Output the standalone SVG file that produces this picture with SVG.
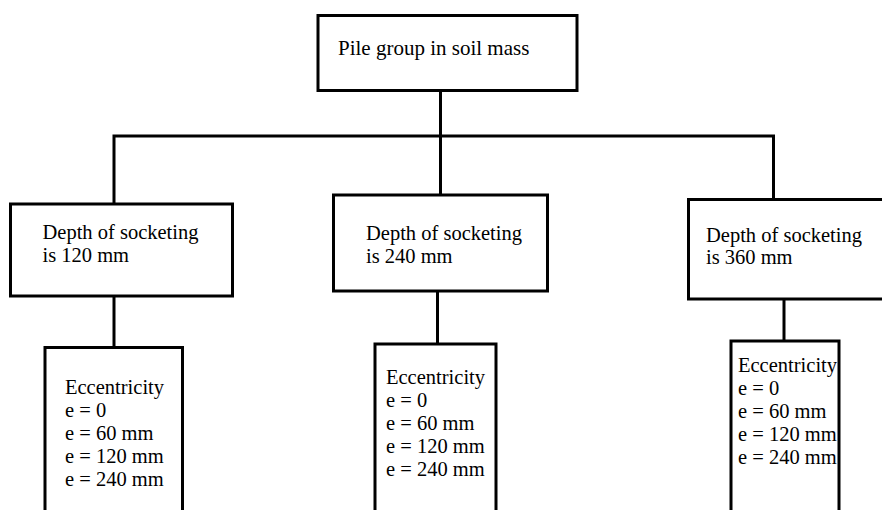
<svg xmlns="http://www.w3.org/2000/svg" width="882" height="510" viewBox="0 0 882 510">
<style>
.box{fill:#fff;stroke:#000;stroke-width:3}
.ln{fill:none;stroke:#000;stroke-width:3}
text{font-family:"Liberation Serif","Times New Roman",serif;font-size:20.5px;fill:#000}
</style>
<rect width="882" height="510" fill="#fff"/>
<g id="connectors">
<path class="ln" d="M440.5 90 V195"/>
<path class="ln" d="M114 204 V136 H773.5 V200"/>
<path class="ln" d="M114 296 V348"/>
<path class="ln" d="M437.5 291 V344"/>
<path class="ln" d="M784 299 V341"/>
</g>
<g id="root">
<rect class="box" x="318" y="15.5" width="259" height="75"/>
<text x="338" y="55" style="font-size:21px">Pile group in soil mass</text>
</g>
<g id="depth120">
<rect class="box" x="10.5" y="204" width="222" height="92"/>
<text x="42.5" y="239">Depth of socketing</text>
<text x="42.5" y="262">is 120 mm</text>
</g>
<g id="depth240">
<rect class="box" x="333.5" y="195" width="214" height="96"/>
<text x="366" y="240">Depth of socketing</text>
<text x="366" y="263">is 240 mm</text>
</g>
<g id="depth360">
<rect class="box" x="688.5" y="199.5" width="200" height="99.5"/>
<text x="706" y="242">Depth of socketing</text>
<text x="706" y="264">is 360 mm</text>
</g>
<g id="ecc120">
<rect class="box" x="45" y="347.5" width="137.5" height="170"/>
<text x="65" y="394">Eccentricity</text>
<text x="65" y="417">e = 0</text>
<text x="65" y="440">e = 60 mm</text>
<text x="65" y="463">e = 120 mm</text>
<text x="65" y="486">e = 240 mm</text>
</g>
<g id="ecc240">
<rect class="box" x="375" y="344" width="121" height="175"/>
<text x="386" y="383.5">Eccentricity</text>
<text x="386" y="406.5">e = 0</text>
<text x="386" y="429.5">e = 60 mm</text>
<text x="386" y="452.5">e = 120 mm</text>
<text x="386" y="475.5">e = 240 mm</text>
</g>
<g id="ecc360">
<rect class="box" x="731" y="341" width="108" height="180"/>
<text x="738" y="372">Eccentricity</text>
<text x="738" y="395">e = 0</text>
<text x="738" y="418">e = 60 mm</text>
<text x="738" y="441">e = 120 mm</text>
<text x="738" y="464">e = 240 mm</text>
</g>
</svg>
